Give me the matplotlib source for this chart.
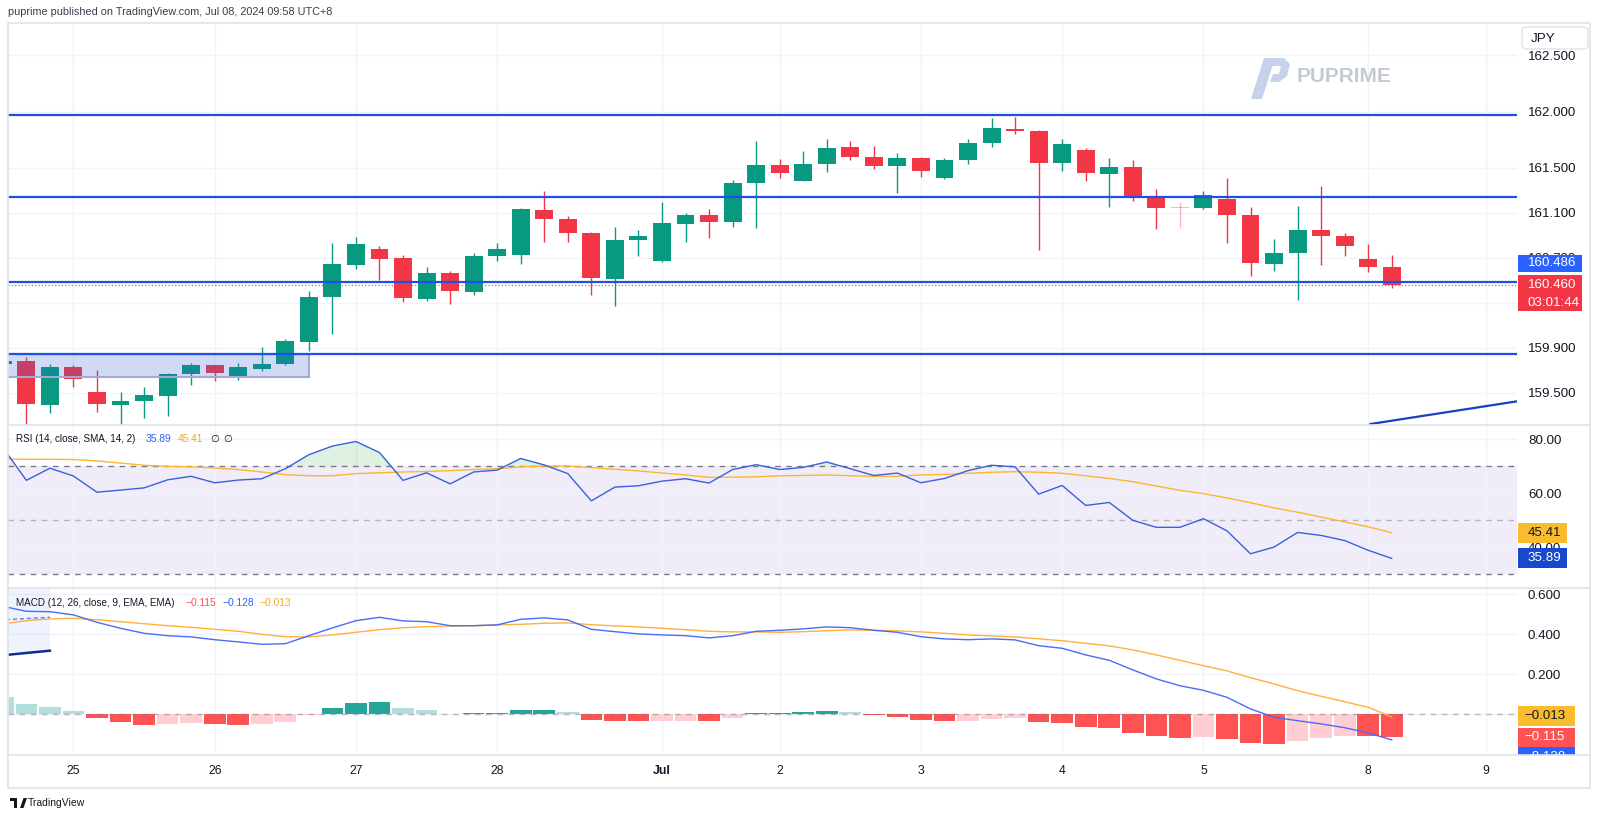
import numpy as np
import matplotlib
matplotlib.use("Agg")
import matplotlib.pyplot as plt
from matplotlib.patches import Rectangle, Polygon, FancyBboxPatch
from matplotlib.lines import Line2D
from matplotlib.colors import to_rgba

plt.rcParams['font.family'] = ['Liberation Sans', 'DejaVu Sans']

W, H = 1600, 819

# 4h bars (UTC+8), index 0 = 25 Jun 01:00
bar_idx = np.arange(-3, 57)
opens = np.array([
    159.757, 159.787, 159.393, 159.733, 159.509, 159.393, 159.431, 159.476, 159.668, 159.748,
    159.648, 159.716, 159.754, 159.956, 160.353, 160.640, 160.780, 160.703, 160.338, 160.563,
    160.397, 160.717, 160.726, 161.123, 161.046, 160.919, 160.516, 160.860, 160.670, 161.005,
    161.082, 161.020, 161.363, 161.523, 161.384, 161.532, 161.686, 161.594, 161.517, 161.585,
    161.408, 161.571, 161.719, 161.849, 161.825, 161.541, 161.657, 161.449, 161.505, 161.254,
    161.147, 161.141, 161.221, 161.082, 160.646, 160.741, 160.951, 160.895, 160.690, 160.617])
highs = np.array([
    159.790, 159.816, 159.757, 159.745, 159.704, 159.509, 159.550, 159.674, 159.763, 159.752,
    159.769, 159.905, 159.977, 160.403, 160.830, 160.886, 160.806, 160.729, 160.620, 160.581,
    160.741, 160.830, 161.147, 161.298, 161.070, 160.928, 160.978, 160.948, 161.197, 161.097,
    161.135, 161.393, 161.740, 161.577, 161.651, 161.754, 161.740, 161.698, 161.630, 161.594,
    161.585, 161.754, 161.944, 161.956, 161.837, 161.754, 161.680, 161.585, 161.568, 161.316,
    161.200, 161.295, 161.411, 161.156, 160.868, 161.162, 161.340, 160.919, 160.821, 160.729])
lows = np.array([
    159.750, 159.200, 159.319, 159.550, 159.334, 159.210, 159.274, 159.298, 159.571, 159.609,
    159.615, 159.698, 159.750, 159.876, 160.024, 160.599, 160.504, 160.311, 160.320, 160.290,
    160.367, 160.676, 160.646, 160.845, 160.845, 160.368, 160.272, 160.717, 160.664, 160.845,
    160.880, 160.978, 160.963, 161.414, 161.380, 161.467, 161.571, 161.494, 161.280, 161.423,
    161.399, 161.532, 161.686, 161.805, 160.771, 161.476, 161.384, 161.150, 161.206, 160.957,
    160.969, 161.132, 160.830, 160.540, 160.584, 160.326, 160.640, 160.720, 160.575, 160.436])
closes = np.array([
    159.787, 159.399, 159.733, 159.621, 159.399, 159.431, 159.479, 159.665, 159.748, 159.674,
    159.727, 159.757, 159.962, 160.353, 160.643, 160.821, 160.693, 160.347, 160.563, 160.406,
    160.720, 160.782, 161.132, 161.043, 160.921, 160.519, 160.860, 160.898, 161.008, 161.085,
    161.022, 161.363, 161.526, 161.458, 161.535, 161.680, 161.594, 161.517, 161.585, 161.473,
    161.571, 161.722, 161.852, 161.828, 161.541, 161.713, 161.452, 161.511, 161.245, 161.147,
    161.145, 161.260, 161.085, 160.652, 160.741, 160.951, 160.898, 160.809, 160.620, 160.460])

rsi = np.array([
    77.0, 64.8, 69.3, 66.4, 60.4, 61.2, 62.0, 65.0, 66.3, 63.9,
    64.9, 65.4, 69.1, 74.3, 77.5, 79.2, 75.1, 64.8, 67.6, 63.5,
    67.9, 68.6, 72.9, 70.5, 67.3, 57.2, 62.3, 62.8, 64.5, 65.4,
    63.8, 68.8, 70.6, 68.8, 69.6, 71.6, 69.1, 66.6, 67.5, 63.9,
    65.5, 68.4, 70.4, 69.8, 59.7, 62.9, 55.5, 56.6, 50.0, 47.4,
    47.4, 50.6, 46.1, 37.6, 40.1, 45.5, 44.4, 42.5, 38.9, 35.89])
rsi_ma = np.array([
    72.7, 72.6, 72.6, 72.5, 72.0, 71.2, 70.4, 70.0, 69.8, 69.4,
    68.8, 67.9, 66.9, 66.5, 66.5, 67.3, 67.6, 67.9, 68.1, 68.4,
    68.8, 69.1, 69.8, 70.1, 70.1, 69.5, 68.9, 68.3, 67.5, 66.8,
    65.9, 66.0, 66.1, 66.5, 66.6, 66.8, 66.5, 66.3, 66.3, 66.8,
    67.0, 67.4, 67.8, 68.0, 67.8, 67.4, 66.5, 65.5, 64.3, 62.7,
    61.1, 59.9, 58.3, 56.5, 54.6, 53.0, 51.2, 49.4, 47.6, 45.41])

macd = np.array([
    0.540, 0.515, 0.513, 0.497, 0.460, 0.430, 0.405, 0.393, 0.387, 0.373,
    0.362, 0.350, 0.353, 0.393, 0.432, 0.468, 0.485, 0.467, 0.463, 0.443,
    0.443, 0.447, 0.475, 0.482, 0.472, 0.425, 0.413, 0.402, 0.397, 0.393,
    0.382, 0.393, 0.415, 0.420, 0.427, 0.437, 0.433, 0.420, 0.410, 0.388,
    0.377, 0.373, 0.377, 0.372, 0.343, 0.330, 0.297, 0.270, 0.222, 0.177,
    0.143, 0.120, 0.085, 0.027, -0.015, -0.032, -0.048, -0.067, -0.093, -0.128])
signal = np.array([
    0.452, 0.468, 0.477, 0.480, 0.473, 0.463, 0.453, 0.443, 0.435, 0.425,
    0.415, 0.400, 0.388, 0.387, 0.397, 0.410, 0.423, 0.433, 0.438, 0.442,
    0.443, 0.447, 0.450, 0.455, 0.457, 0.448, 0.442, 0.437, 0.430, 0.423,
    0.415, 0.412, 0.412, 0.410, 0.413, 0.418, 0.422, 0.420, 0.417, 0.412,
    0.405, 0.397, 0.392, 0.387, 0.377, 0.368, 0.355, 0.342, 0.322, 0.297,
    0.270, 0.243, 0.217, 0.183, 0.152, 0.118, 0.090, 0.063, 0.035, -0.013])
hist = np.array([
    0.088, 0.050, 0.035, 0.015, -0.020, -0.040, -0.053, -0.050, -0.045, -0.050,
    -0.052, -0.049, -0.037, -0.005, 0.030, 0.058, 0.062, 0.030, 0.022, 0.002,
    0.007, 0.008, 0.022, 0.023, 0.013, -0.027, -0.032, -0.035, -0.034, -0.033,
    -0.035, -0.020, 0.007, 0.008, 0.010, 0.015, 0.010, -0.005, -0.015, -0.027,
    -0.032, -0.031, -0.023, -0.018, -0.040, -0.045, -0.062, -0.070, -0.092, -0.110,
    -0.120, -0.115, -0.121, -0.145, -0.148, -0.132, -0.120, -0.108, -0.110, -0.115])

day_ticks = [0, 6, 12, 18, 25, 30, 36, 42, 48, 55, 60]
day_labels = ['25', '26', '27', '28', 'Jul', '2', '3', '4', '5', '8', '9']

price_ticks = [162.5, 162.0, 161.5, 161.1, 160.7, 160.3, 159.9, 159.5]
rsi_ticks = [80, 60, 40]
macd_ticks = [0.6, 0.4, 0.2, 0.0]
# tick values whose labels sit fully behind the last-value boxes
hidden_ticks = [160.3, 0.0]

# drawings
levels = [161.97, 161.24, 160.486, 159.846]
last_price = 160.460
countdown = '03:01:44'
zone_x = [-4.0, 10.0]
zone_y = [159.639, 159.846]
trend_x = [55.1, 61.4]
trend_y = [159.224, 159.428]
macd_zone_x = [-4.0, -1.0]
macd_zone_y = [0.31, 0.64]
macd_trend_x = [-3.2, -1.0]
macd_trend_y = [0.293, 0.318]
macd_dash_y = [0.471, 0.485]

UP, DOWN = '#089981', '#f23645'
GRID, TXT, BORDER = '#f0f3fa', '#131722', '#e0e3eb'
BLUE, AMBER = '#2962ff', '#ffb13b'

fig = plt.figure(figsize=(16, 8.19), dpi=100)
fig.patch.set_facecolor('white')


def pane(top, bottom):
    return fig.add_axes([8 / W, 1 - bottom / H, (1517 - 8) / W, (bottom - top) / H])


def setup(a, ylim, ticks, fmt):
    a.set_xlim(-2.78, 61.32)
    a.set_ylim(*ylim)
    a.set_yticks(ticks)
    a.set_yticklabels(['' if t in hidden_ticks else fmt.format(t) for t in ticks])
    a.yaxis.tick_right()
    a.set_xticks(day_ticks)
    a.tick_params(length=0, labelsize=9.6, labelcolor=TXT, pad=7.9)
    a.tick_params(axis='x', labelbottom=False)
    a.grid(True, color=GRID, lw=1)
    a.set_axisbelow(True)
    for s in a.spines.values():
        s.set_visible(False)
    a.patch.set_alpha(0)


def px_box(x0, y0, x1, y1, fc, ec=None, z=5, lw=0):
    fig.add_artist(Rectangle((x0 / W, 1 - y1 / H), (x1 - x0) / W, (y1 - y0) / H,
                             transform=fig.transFigure, facecolor=fc,
                             edgecolor=ec if ec else fc, lw=lw, zorder=z))


def px_text(x, y, s, **kw):
    kw.setdefault('va', 'center')
    kw.setdefault('zorder', 6)
    fig.text(x / W, 1 - y / H, s, **kw)


def px_line(xs, ys, **kw):
    fig.add_artist(Line2D([x / W for x in xs], [1 - y / H for y in ys],
                          transform=fig.transFigure, **kw))


def neg(v, fmt):
    return fmt.format(v).replace('-', '\u2212')


# ---------------- price pane
ax = pane(23, 425)
setup(ax, (159.215, 162.788), price_ticks, '{:.3f}')

is_doji = np.abs(closes - opens) < 0.005
cols = [to_rgba(UP if c >= o else DOWN, 0.35 if d else 1.0)
        for o, c, d in zip(opens, closes, is_doji)]
ax.vlines(bar_idx, lows, highs, colors=cols, lw=1, zorder=2)
body_h = np.maximum(np.abs(closes - opens), 0.009)
ax.bar(bar_idx, body_h, bottom=np.minimum(opens, closes), width=0.76,
       color=cols, lw=0, zorder=3)

ax.add_patch(Rectangle((zone_x[0], zone_y[0]), zone_x[1] - zone_x[0], zone_y[1] - zone_y[0],
                       facecolor=(0.216, 0.384, 0.827, 0.23), edgecolor='#a5a8d6', lw=1.5, zorder=4))
for lv in levels:
    ax.axhline(lv, color='#1e50e6', lw=1.6, zorder=5)
ax.axhline(last_price, color=DOWN, lw=0.8, ls=(0, (1, 2)), zorder=4)
ax.plot(trend_x, trend_y, color='#1a3fc0', lw=1.6, zorder=5)

# ---------------- RSI pane
ax_r = pane(425, 588)
setup(ax_r, (24.93, 85.3), rsi_ticks, '{:.2f}')
ax_r.axhspan(30, 70, color='#7e57c2', alpha=0.1, lw=0, zorder=0)
ax_r.axhline(70, color='#787b86', lw=1, ls=(0, (4, 4)), zorder=1)
ax_r.axhline(50, color='#787b86', lw=1, ls=(0, (4, 4)), alpha=0.5, zorder=1)
ax_r.axhline(30, color='#787b86', lw=1, ls=(0, (4, 4)), zorder=1)
ax_r.fill_between(bar_idx, 70, rsi, where=rsi > 70, interpolate=True,
                  color='#4caf50', alpha=0.18, lw=0, zorder=2)
ax_r.plot(bar_idx, rsi_ma, color='#fdb62f', lw=1, zorder=3)
ax_r.plot(bar_idx, rsi, color='#3a5fe0', lw=1, zorder=4)

# ---------------- MACD pane
ax_m = pane(588, 754)
setup(ax_m, (-0.1985, 0.6315), macd_ticks, '{:.3f}')
ax_m.tick_params(axis='x', labelbottom=True, labelsize=8.8, pad=8)
ax_m.set_xticklabels(day_labels)
for t in ax_m.get_xticklabels():
    if t.get_text() == 'Jul':
        t.set_fontweight('bold')

hcols = []
for k, h in enumerate(hist):
    prev = hist[k - 1] if k > 0 else h
    if h >= 0:
        hcols.append('#26a69a' if prev < h else '#b2dfdb')
    else:
        hcols.append('#ffcdd2' if prev < h else '#ff5252')
ax_m.bar(bar_idx, hist, width=0.92, color=hcols, lw=0, zorder=2)
ax_m.axhline(0, color='#787b86', lw=1, ls=(0, (4, 4)), alpha=0.5, zorder=3)
ax_m.add_patch(Rectangle((macd_zone_x[0], macd_zone_y[0]), macd_zone_x[1] - macd_zone_x[0],
                         macd_zone_y[1] - macd_zone_y[0], facecolor=BLUE, alpha=0.07, lw=0, zorder=1))
ax_m.plot(macd_trend_x, macd_trend_y, color='#0d2c8e', lw=1.8, zorder=5)
ax_m.plot(macd_trend_x, macd_dash_y, color='#5b7ff5', lw=1, ls=(0, (3, 2)), zorder=5)
ax_m.plot(bar_idx, signal, color=AMBER, lw=1, zorder=4)
ax_m.plot(bar_idx, macd, color='#4a6cf7', lw=1, zorder=4)

# ---------------- frame and separators
px_line([8, 1590], [425, 425], color=BORDER, lw=1.2, zorder=8)
px_line([8, 1590], [588, 588], color=BORDER, lw=1.2, zorder=8)

# ---------------- right scale labels
px_box(1518, 255, 1582, 272, BLUE)
px_text(1528, 263.5, '{:.3f}'.format(levels[2]), color='white', size=9.6)
px_box(1518, 275, 1582, 311, DOWN)
px_text(1528, 285, '{:.3f}'.format(last_price), color='white', size=9.6)
px_text(1528, 302.5, countdown, color='white', size=9.6)

px_box(1518, 523, 1567, 543, '#f9bc2e')
px_text(1528, 533, '{:.2f}'.format(rsi_ma[-1]), color=TXT, size=9.6)
px_box(1518, 548, 1567, 568, '#1848cc')
px_text(1528, 558, '{:.2f}'.format(rsi[-1]), color='white', size=9.6)

px_box(1518, 706, 1575, 726, '#f9bc2e')
px_text(1524, 716, neg(signal[-1], '{:.3f}'), color=TXT, size=9.6)
px_box(1518, 728, 1575, 747, '#ff5252')
px_text(1524, 737.5, neg(hist[-1], '{:.3f}'), color='white', size=9.6)
px_box(1518, 747, 1575, 766, BLUE)
px_text(1524, 757, neg(macd[-1], '{:.3f}'), color='white', size=9.6)
px_box(1517, 755, 1589, 787, 'white', z=7)

px_line([8, 1590], [754.5, 754.5], color=BORDER, lw=1.2, zorder=8)
fig.add_artist(Rectangle((8 / W, 1 - 788 / H), (1590 - 8) / W, (788 - 23) / H,
                         transform=fig.transFigure, fill=False, edgecolor=BORDER,
                         lw=1.2, zorder=8))

# JPY box
fig.add_artist(FancyBboxPatch((1522 / W, 1 - 49 / H), 66 / W, 22 / H,
                              boxstyle='round,pad=0,rounding_size=0.004',
                              transform=fig.transFigure, facecolor='white',
                              edgecolor=BORDER, lw=1, zorder=6))
px_text(1531, 38.5, 'JPY', color=TXT, size=9.6, zorder=7)

# ---------------- pane legends
px_text(16, 439.5, 'RSI (14, close, SMA, 14, 2)', color=TXT, size=7.1)
px_text(146, 439.5, '{:.2f}'.format(rsi[-1]), color=BLUE, size=7.4)
px_text(178, 439.5, '{:.2f}'.format(rsi_ma[-1]), color='#f7a823', size=7.4)
px_text(210, 439.5, '\u2205', color=TXT, size=7.4)
px_text(223, 439.5, '\u2205', color=TXT, size=7.4)

px_text(16, 602.5, 'MACD (12, 26, close, 9, EMA, EMA)', color=TXT, size=7.1)
px_text(185, 602.5, neg(hist[-1], '{:.3f}'), color='#ff5252', size=7.4)
px_text(222, 602.5, neg(macd[-1], '{:.3f}'), color=BLUE, size=7.4)
px_text(259, 602.5, neg(signal[-1], '{:.3f}'), color='#f7a823', size=7.4)

# ---------------- header, watermark, footer
px_text(8, 12, 'puprime published on TradingView.com, Jul 08, 2024 09:58 UTC+8',
        color='#3a3e4a', size=7.8)

wm = '#c6d2ec'
fig.add_artist(Polygon([(1251 / W, 1 - 99 / H), (1262 / W, 1 - 99 / H),
                        (1275 / W, 1 - 58 / H), (1264 / W, 1 - 58 / H)],
                       closed=True, transform=fig.transFigure, facecolor=wm, lw=0, zorder=2))
fig.add_artist(Polygon([(1268 / W, 1 - 58 / H), (1284 / W, 1 - 58 / H), (1290 / W, 1 - 64 / H),
                        (1287 / W, 1 - 76 / H), (1279 / W, 1 - 82 / H), (1270 / W, 1 - 82 / H),
                        (1273 / W, 1 - 74 / H), (1279 / W, 1 - 74 / H), (1281 / W, 1 - 66 / H),
                        (1266 / W, 1 - 66 / H)],
                       closed=True, transform=fig.transFigure, facecolor=wm, lw=0, zorder=2))
px_text(1297, 77, 'PUPRIME', color='#c4cad4', size=15, fontweight='bold', zorder=2)

# TradingView footer logo
fig.add_artist(Polygon([(10 / W, 1 - 798 / H), (17 / W, 1 - 798 / H), (17 / W, 1 - 808 / H),
                        (14 / W, 1 - 808 / H), (14 / W, 1 - 801 / H), (10 / W, 1 - 801 / H)],
                       closed=True, transform=fig.transFigure, facecolor=TXT, lw=0, zorder=6))
fig.add_artist(Polygon([(20 / W, 1 - 808 / H), (23.5 / W, 1 - 808 / H), (27 / W, 1 - 798 / H),
                        (23.5 / W, 1 - 798 / H)],
                       closed=True, transform=fig.transFigure, facecolor=TXT, lw=0, zorder=6))
px_text(28, 803, 'TradingView', color=TXT, size=7.5)

fig.savefig('out.png', dpi=100, facecolor='white')
